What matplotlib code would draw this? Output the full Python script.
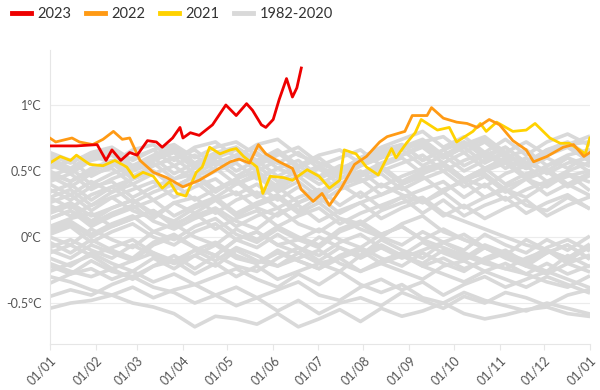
import matplotlib
matplotlib.use("Agg")
import matplotlib.pyplot as plt
import numpy as np

plt.rcParams['font.family'] = ['Lato', 'DejaVu Sans']

# day of year -> anomaly (degC)
red_days = [0, 18, 32, 38, 42, 48, 54, 59, 66, 72, 76, 83, 88, 90, 95, 101, 110, 119, 126,
            133, 137, 143, 146, 151, 155, 160, 164, 167, 170]
red_vals = [0.69, 0.69, 0.70, 0.58, 0.66, 0.58, 0.64, 0.62, 0.73, 0.72, 0.68, 0.75, 0.83, 0.75,
            0.79, 0.77, 0.85, 1.00, 0.92, 1.01, 0.96, 0.85, 0.83, 0.89, 1.04, 1.20, 1.06, 1.13, 1.28]

orange_days = [0, 4, 15, 20, 29, 36, 43, 49, 54, 61, 70, 79, 90, 101, 110, 122, 128, 135, 141,
               146, 155, 164, 170, 178, 184, 189, 197, 206, 214, 223, 228, 240, 245, 255, 258,
               266, 275, 282, 289, 297, 304, 313, 322, 327, 336, 347, 354, 361, 365]
orange_vals = [0.75, 0.72, 0.75, 0.72, 0.70, 0.74, 0.80, 0.74, 0.75, 0.58, 0.49, 0.45, 0.38, 0.43,
               0.49, 0.57, 0.59, 0.56, 0.70, 0.63, 0.57, 0.52, 0.36, 0.27, 0.33, 0.24, 0.37, 0.55,
               0.61, 0.72, 0.76, 0.80, 0.92, 0.92, 0.98, 0.90, 0.87, 0.86, 0.83, 0.89, 0.85, 0.73,
               0.66, 0.57, 0.61, 0.68, 0.70, 0.61, 0.64]

yellow_days = [0, 7, 14, 18, 27, 36, 44, 52, 57, 63, 70, 76, 81, 86, 92, 99, 103, 108, 115, 122,
               126, 131, 140, 144, 149, 158, 164, 169, 174, 182, 189, 196, 199, 207, 214, 222,
               231, 234, 241, 247, 251, 262, 270, 275, 286, 291, 295, 302, 313, 322, 328, 338,
               345, 351, 358, 362, 365]
yellow_vals = [0.56, 0.61, 0.58, 0.62, 0.55, 0.54, 0.58, 0.53, 0.45, 0.49, 0.46, 0.37, 0.42, 0.33,
               0.31, 0.49, 0.53, 0.68, 0.63, 0.66, 0.67, 0.61, 0.53, 0.33, 0.46, 0.45, 0.43, 0.47,
               0.51, 0.46, 0.37, 0.43, 0.66, 0.63, 0.53, 0.47, 0.67, 0.60, 0.71, 0.79, 0.89, 0.81,
               0.83, 0.72, 0.80, 0.86, 0.80, 0.87, 0.80, 0.81, 0.86, 0.75, 0.71, 0.71, 0.66, 0.63, 0.75]

# 1982-2020, one value every 14 days (hundredths of degC)
past_days = list(range(0, 365, 14))
past = {
    1982: [-54, -50, -48, -44, -50, -53, -58, -68, -60, -62, -66, -58, -68, -62, -55, -64, -54, -60, -56, -50, -58, -62, -59, -55, -53, -58, -60],
    1983: [-45, -40, -44, -36, -30, -38, -42, -50, -44, -52, -46, -56, -48, -58, -50, -46, -52, -42, -48, -54, -45, -50, -42, -46, -52, -44, -40],
    1984: [-30, -34, -40, -44, -38, -46, -40, -36, -44, -38, -46, -40, -34, -44, -48, -38, -32, -40, -34, -44, -36, -30, -38, -32, -26, -32, -38],
    1985: [-35, -28, -24, -32, -26, -34, -28, -36, -30, -24, -32, -38, -28, -36, -26, -36, -42, -36, -46, -50, -42, -48, -52, -56, -50, -54, -58],
    1986: [-20, -26, -30, -24, -32, -22, -18, -28, -20, -30, -22, -32, -26, -20, -16, -26, -20, -14, -22, -28, -34, -26, -20, -28, -34, -38, -30],
    1987: [-26, -20, -14, -24, -18, -12, -20, -14, -6, -16, -20, -12, -18, -24, -16, -10, -20, -26, -32, -22, -18, -26, -32, -38, -30, -36, -42],
    1988: [-12, -6, -14, -8, -2, -12, -18, -10, -18, -8, -14, -22, -16, -10, -20, -26, -18, -12, -22, -16, -24, -18, -12, -22, -28, -20, -26],
    1989: [-22, -28, -18, -26, -30, -22, -14, -24, -14, -22, -26, -16, -8, -18, -8, -16, -8, -16, -10, -4, -12, -18, -24, -16, -10, -20, -14],
    1990: [-8, -2, -10, -16, -6, -14, -20, -10, -4, -14, -20, -10, -18, -24, -14, -8, -16, -22, -12, -20, -26, -16, -10, -20, -26, -14, -22],
    1991: [-16, -22, -12, -20, -26, -16, -24, -14, -22, -10, -18, -22, -12, -20, -26, -14, -6, -14, -20, -10, -16, -6, -12, -18, -8, -2, -10],
    1992: [2, 8, -4, 4, 10, 0, -6, 4, 10, -2, -8, 2, -8, -14, -4, 2, -8, -14, -4, -12, -18, -8, -16, -22, -12, -6, -16],
    1993: [-4, -12, -2, -10, -16, -4, 2, -8, -14, -2, 4, -6, -12, 0, -8, -14, -2, -10, -16, -4, 2, -8, -14, -2, -10, -16, -6],
    1994: [6, 12, 2, 10, 16, 4, -2, 8, 14, 2, -4, 6, -2, -8, 4, 10, 0, -6, 4, -4, -10, 2, -6, -12, -2, -10, 0],
    1995: [-10, -16, -6, -12, -18, -6, 0, -8, -14, -2, 4, -6, -2, 6, -2, -8, 2, 8, -2, 6, -2, -8, -14, -20, -10, -18, -8],
    1996: [14, 20, 10, 18, 24, 12, 6, 14, 20, 8, 16, 22, 10, 4, 14, 6, 0, 10, 16, 4, -2, -8, -14, -20, -12, -6, -16],
    1997: [0, -6, 6, -2, -8, 4, 10, 0, -6, 6, -2, 8, 0, -6, 6, 12, 2, 8, -2, -8, -14, -20, -24, -28, -20, -28, -22],
    1998: [20, 26, 16, 22, 28, 18, 12, 22, 28, 16, 24, 30, 18, 26, 14, 10, 20, 26, 30, 18, 12, 6, 0, -6, -10, -16, -8],
    1999: [8, 14, 18, 8, 14, 20, 10, 16, 22, 12, 6, 18, 24, 12, 20, 26, 14, 22, 28, 16, 24, 14, 22, 28, 16, 24, 30],
    2000: [24, 16, 24, 30, 20, 14, 26, 18, 28, 34, 22, 16, 26, 32, 40, 30, 40, 32, 26, 36, 42, 30, 38, 44, 32, 40, 32],
    2001: [4, 10, 0, 8, 14, 20, 8, 18, 6, 14, 20, 8, 16, 22, 10, 18, 24, 30, 18, 28, 16, 24, 30, 18, 26, 32, 22],
    2002: [30, 22, 32, 38, 26, 34, 40, 28, 36, 42, 30, 38, 26, 34, 40, 44, 32, 40, 46, 34, 44, 48, 36, 30, 40, 46, 50],
    2003: [14, 20, 8, 16, 22, 28, 16, 24, 30, 18, 26, 32, 20, 30, 18, 26, 32, 38, 26, 34, 22, 30, 36, 24, 20, 30, 22],
    2004: [36, 28, 38, 42, 30, 38, 44, 48, 36, 44, 32, 40, 46, 34, 44, 50, 38, 46, 52, 56, 44, 52, 40, 48, 52, 40, 48],
    2005: [18, 24, 12, 22, 28, 16, 26, 30, 18, 28, 34, 22, 30, 36, 24, 34, 22, 30, 36, 42, 30, 40, 28, 36, 42, 48, 36],
    2006: [40, 32, 42, 34, 44, 50, 38, 46, 34, 44, 50, 38, 46, 52, 40, 48, 54, 42, 50, 56, 44, 38, 48, 54, 42, 50, 56],
    2007: [26, 32, 20, 30, 36, 42, 30, 38, 44, 32, 40, 28, 38, 26, 36, 42, 48, 36, 44, 50, 38, 46, 34, 44, 50, 38, 46],
    2008: [46, 38, 48, 52, 40, 48, 54, 42, 50, 56, 44, 52, 58, 46, 54, 42, 50, 56, 62, 50, 58, 64, 52, 60, 48, 56, 60],
    2009: [30, 36, 24, 34, 40, 28, 36, 42, 30, 40, 46, 34, 42, 30, 40, 46, 52, 40, 48, 54, 42, 50, 56, 44, 38, 48, 42],
    2010: [50, 42, 52, 58, 46, 54, 60, 48, 56, 62, 50, 58, 46, 54, 60, 66, 54, 62, 68, 56, 64, 52, 60, 66, 54, 62, 66],
    2011: [34, 40, 28, 38, 44, 50, 38, 46, 52, 40, 48, 36, 46, 52, 40, 48, 54, 60, 48, 56, 44, 52, 58, 46, 54, 60, 50],
    2012: [55, 48, 58, 62, 50, 58, 64, 52, 60, 66, 54, 62, 68, 56, 50, 60, 66, 70, 58, 66, 72, 60, 68, 56, 64, 70, 60],
    2013: [42, 48, 36, 44, 50, 56, 44, 52, 58, 46, 54, 42, 50, 40, 48, 54, 60, 66, 54, 62, 50, 58, 64, 52, 60, 52, 62],
    2014: [60, 52, 62, 66, 54, 62, 68, 56, 64, 68, 58, 66, 54, 62, 66, 56, 64, 68, 74, 62, 70, 76, 64, 72, 62, 70, 72],
    2015: [46, 52, 40, 48, 54, 60, 48, 56, 62, 50, 58, 46, 54, 44, 52, 58, 64, 70, 58, 66, 54, 62, 68, 56, 50, 60, 54],
    2016: [58, 50, 60, 64, 52, 60, 66, 54, 62, 68, 56, 64, 52, 60, 48, 56, 62, 66, 72, 60, 68, 56, 64, 52, 62, 68, 58],
    2017: [52, 58, 46, 54, 60, 66, 54, 62, 50, 58, 64, 52, 46, 54, 44, 54, 60, 66, 72, 60, 68, 74, 62, 56, 66, 72, 62],
    2018: [62, 56, 64, 68, 58, 66, 70, 60, 68, 72, 62, 56, 64, 52, 48, 58, 62, 68, 72, 76, 64, 72, 60, 56, 66, 70, 76],
    2019: [48, 42, 50, 56, 44, 54, 60, 66, 54, 62, 68, 56, 50, 44, 38, 48, 56, 62, 70, 60, 72, 62, 58, 52, 64, 70, 58],
    2020: [64, 58, 62, 56, 66, 70, 58, 68, 72, 60, 70, 74, 62, 56, 50, 60, 68, 74, 80, 68, 76, 64, 74, 62, 72, 78, 70],
}

month_starts = [0, 31, 59, 90, 120, 151, 181, 212, 243, 273, 304, 334, 365]
month_labels = ['01/01', '01/02', '01/03', '01/04', '01/05', '01/06', '01/07',
                '01/08', '01/09', '01/10', '01/11', '01/12', '01/01']
y_ticks = [-0.5, 0, 0.5, 1]
y_labels = ['-0.5°C', '0°C', '0.5°C', '1°C']

fig = plt.figure(figsize=(6, 3.9), dpi=100)
ax = fig.add_axes([0.083, 0.118, 0.9, 0.754])

gray = '#d9d9d9'
for i, (yr, vals) in enumerate(past.items()):
    ax.plot(past_days, np.array(vals) / 100.0, color=gray, lw=2.6,
            solid_joinstyle='round', label='1982-2020' if i == 0 else None, zorder=1)
ax.plot(yellow_days, yellow_vals, color='#ffd200', lw=2, label='2021', zorder=2)
ax.plot(orange_days, orange_vals, color='#ff9a14', lw=2, label='2022', zorder=3)
ax.plot(red_days, red_vals, color='#ee0000', lw=2, label='2023', zorder=4)

ax.set_xlim(0, 365)
ax.set_ylim(-0.81, 1.417)
ax.set_xticks(month_starts)
ax.set_xticklabels(month_labels, rotation=45, ha='right', rotation_mode='anchor')
ax.set_yticks(y_ticks)
ax.set_yticklabels(y_labels)
ax.grid(axis='y', color='#ececec', lw=0.8)
ax.set_axisbelow(True)
for s in ['top', 'right']:
    ax.spines[s].set_visible(False)
for s in ['left', 'bottom']:
    ax.spines[s].set_color('#e6e6e6')
ax.tick_params(axis='both', colors='#e6e6e6', labelcolor='#555555', labelsize=9)
ax.tick_params(axis='y', length=0, pad=6)
ax.tick_params(axis='x', length=4)

handles, labels = ax.get_legend_handles_labels()
order = ['2023', '2022', '2021', '1982-2020']
hl = dict(zip(labels, handles))
leg = fig.legend([hl[k] for k in order], order, loc='upper left', bbox_to_anchor=(-0.002, 1.015),
                 ncol=4, frameon=False, fontsize=10.5, handlelength=1.3, handletextpad=0.45,
                 columnspacing=1.0)
for line in leg.get_lines():
    line.set_linewidth(3.5)
for t in leg.get_texts():
    t.set_color('#333333')

plt.savefig('out.png', dpi=100)
